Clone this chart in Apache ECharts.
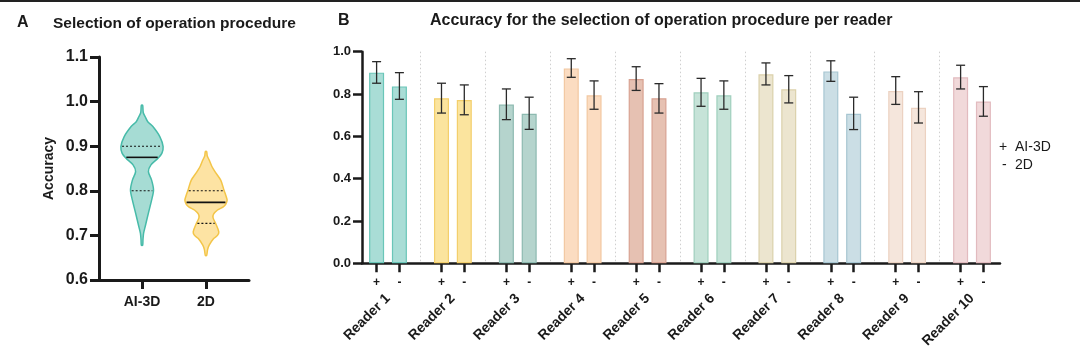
<!DOCTYPE html>
<html><head><meta charset="utf-8">
<script src="https://cdn.jsdelivr.net/npm/echarts@6/dist/echarts.min.js"></script>
<style>html,body{margin:0;padding:0;background:#fff;overflow:hidden}#c{width:1080px;height:357px}#topbar{position:absolute;left:0;top:0;width:1080px;height:2px;background:#222}</style>
</head><body><div id="c"></div><div id="topbar"></div>
<script>
// ---------- Panel A data ----------
const violinCategories = ['AI-3D', '2D'];
// density outline: [accuracy, half-width as a fraction of category spacing]
const ai3dProfile = [[0.992,0.01],[0.975,0.02],[0.966,0.05],[0.955,0.09],[0.944,0.17],[0.921,0.28],[0.899,0.33],[0.884,0.31],[0.873,0.25],[0.858,0.14],[0.843,0.10],[0.824,0.15],[0.802,0.18],[0.779,0.15],[0.750,0.10],[0.720,0.05],[0.705,0.025],[0.690,0.015],[0.678,0.01]];
const twoDProfile = [[0.888,0.01],[0.878,0.02],[0.869,0.05],[0.855,0.09],[0.843,0.14],[0.824,0.23],[0.802,0.28],[0.785,0.32],[0.779,0.33],[0.770,0.31],[0.764,0.27],[0.757,0.18],[0.748,0.12],[0.740,0.11],[0.727,0.15],[0.708,0.20],[0.700,0.18],[0.693,0.12],[0.678,0.05],[0.668,0.025],[0.655,0.01]];
const violinMedian = [0.875, 0.774];
const violinQ1 = [0.800, 0.727];
const violinQ3 = [0.900, 0.800];

// ---------- Panel B data ----------
const readers = ['Reader 1','Reader 2','Reader 3','Reader 4','Reader 5','Reader 6','Reader 7','Reader 8','Reader 9','Reader 10'];
const ai3dMean = [0.901,0.780,0.750,0.921,0.871,0.808,0.893,0.907,0.814,0.879];
const ai3dLow  = [0.851,0.710,0.679,0.879,0.817,0.742,0.843,0.860,0.751,0.824];
const ai3dHigh = [0.953,0.851,0.824,0.967,0.929,0.874,0.947,0.957,0.882,0.936];
const twoDMean = [0.836,0.772,0.707,0.794,0.780,0.794,0.822,0.707,0.735,0.765];
const twoDLow  = [0.775,0.702,0.633,0.728,0.710,0.728,0.758,0.632,0.663,0.695];
const twoDHigh = [0.901,0.843,0.785,0.862,0.849,0.862,0.887,0.785,0.811,0.835];

// ---------- styles ----------
const FONT = '"Liberation Sans", Arial, Helvetica, sans-serif';
const INK = '#1a1a1a';
const violinFill = ['#a6dcd4', '#fde3a3'];
const violinStroke = ['#47bba9', '#f3c548'];
const barFill =   ['#a9ddd6','#fbe49e','#b5d4cd','#fbdcc1','#e6c1b2','#c6e3d8','#ece5cf','#cbdee5','#f5e6dc','#f1d9da'];
const barBorder = ['#6ac6b8','#f3cf6c','#8dbab0','#f2c8a2','#d8a292','#9fcfbd','#dbd1ab','#a7c6d2','#ecd2c1','#e2bbbf'];

// ---------- layout ----------
const A = {left: 99, top: 57, width: 150, height: 223};
const B = {left: 355.56, top: 51.7, width: 648.9, height: 211.6};
const BAR_W = 15, BAR_GAP = 7.8;
const barOffsetPx = (BAR_W + BAR_GAP) / 2;
const bandPx = B.width / readers.length;
const tickOffset = barOffsetPx / bandPx;
const barTickValues = [];
readers.forEach((r, i) => { barTickValues.push(i + 0.5 - tickOffset, i + 0.5 + tickOffset); });

function halfWidthAt(prof, v) {
  for (let k = 0; k < prof.length - 1; k++) {
    const a = prof[k], b = prof[k + 1];
    if (v <= a[0] && v >= b[0]) {
      const t = (a[0] - v) / (a[0] - b[0]);
      return a[1] + (b[1] - a[1]) * t;
    }
  }
  return 0;
}
const profiles = [ai3dProfile, twoDProfile];

const chart = echarts.init(document.getElementById('c'), null, {renderer: 'canvas'});

const boldLabel = (size) => ({fontFamily: FONT, fontWeight: 'bold', fontSize: size, color: INK});

const option = {
  backgroundColor: '#fff',
  animation: false,
  title: [
    {text: 'A', left: 17, top: 15, padding: 0, textStyle: boldLabel(16)},
    {text: 'Selection of operation procedure', left: 53, top: 16, padding: 0, textStyle: boldLabel(15.5)},
    {text: 'B', left: 338, top: 13, padding: 0, textStyle: boldLabel(16)},
    {text: 'Accuracy for the selection of operation procedure per reader', left: 430, top: 13, padding: 0, textStyle: boldLabel(16)}
  ],
  grid: [
    {left: A.left, top: A.top, width: A.width, height: A.height},
    {left: B.left, top: B.top, width: B.width, height: B.height},
    {left: 362, top: B.top, width: 638, height: B.height}
  ],
  xAxis: [
    { // panel A
      gridIndex: 0, type: 'value', min: 0.328, max: 2.672,
      axisLine: {show: true, lineStyle: {color: INK, width: 3}},
      axisTick: {show: true, customValues: [1, 2], length: 9, lineStyle: {color: INK, width: 3}},
      axisLabel: {customValues: [1, 2], formatter: v => violinCategories[Math.round(v) - 1], margin: 15, ...boldLabel(14)},
      splitLine: {show: false}
    },
    { // panel B categories
      gridIndex: 1, type: 'category', data: readers,
      axisLine: {show: false}, axisTick: {show: false},
      axisLabel: {rotate: 45, margin: 33, interval: 0, ...boldLabel(14)},
      splitLine: {show: true, interval: 0, showMinLine: false, showMaxLine: false, lineStyle: {color: '#cfcfcf', type: [1.5, 2.5], width: 1}}
    },
    { // panel B bar ticks (+ / -)
      gridIndex: 1, type: 'value', min: 0, max: readers.length, position: 'bottom',
      axisLine: {show: false},
      axisTick: {show: true, customValues: barTickValues, length: 9, lineStyle: {color: INK, width: 2.5}},
      axisLabel: {customValues: barTickValues, formatter: v => ((v % 1) < 0.5 ? '+' : '-'), margin: 13, ...boldLabel(12)},
      splitLine: {show: false}
    },
    { // panel B axis line
      gridIndex: 2, type: 'value', min: 0, max: 1,
      axisLine: {show: true, lineStyle: {color: INK, width: 2.5}},
      axisTick: {show: false}, axisLabel: {show: false}, splitLine: {show: false}
    }
  ],
  yAxis: [
    {
      gridIndex: 0, type: 'value', min: 0.6, max: 1.1, interval: 0.1,
      name: 'Accuracy', nameLocation: 'middle', nameGap: 43, nameRotate: 90,
      nameTextStyle: boldLabel(14),
      axisLine: {show: true, lineStyle: {color: INK, width: 3}},
      axisTick: {show: true, length: 9, lineStyle: {color: INK, width: 3}},
      axisLabel: {formatter: v => v.toFixed(1), margin: 11, ...boldLabel(16)},
      splitLine: {show: false}
    },
    {gridIndex: 1, type: 'value', min: 0, max: 1, show: false, splitLine: {show: false}},
    {
      gridIndex: 2, type: 'value', min: 0, max: 1, interval: 0.2,
      axisLine: {show: true, lineStyle: {color: INK, width: 2.5}},
      axisTick: {show: true, length: 9, lineStyle: {color: INK, width: 2.5}},
      axisLabel: {formatter: v => v.toFixed(1), margin: 11, ...boldLabel(13)},
      splitLine: {show: false}
    }
  ],
  graphic: [
    {type: 'text', left: 999, top: 140, style: {text: '+', font: '14px ' + FONT, fill: INK}},
    {type: 'text', left: 1015, top: 140, style: {text: 'AI-3D', font: '14px ' + FONT, fill: INK}},
    {type: 'text', left: 1002, top: 158, style: {text: '-', font: '14px ' + FONT, fill: INK}},
    {type: 'text', left: 1015, top: 158, style: {text: '2D', font: '14px ' + FONT, fill: INK}}
  ],
  series: [
    {
      type: 'custom', xAxisIndex: 0, yAxisIndex: 0,
      data: violinCategories.map((c, i) => [i + 1, violinMedian[i], violinQ1[i], violinQ3[i]]),
      encode: {x: 0, y: 1},
      renderItem(params, api) {
        const i = params.dataIndex;
        const cx = api.value(0);
        const prof = profiles[i];
        const right = prof.map(p => api.coord([cx + p[1], p[0]]));
        const left = prof.slice().reverse().map(p => api.coord([cx - p[1], p[0]]));
        const children = [{
          type: 'polygon', shape: {points: right.concat(left), smooth: 0.3},
          style: {fill: violinFill[i], stroke: violinStroke[i], lineWidth: 1.5}
        }];
        const addLine = (v, dashed) => {
          const w = halfWidthAt(prof, v);
          const p1 = api.coord([cx - w, v]), p2 = api.coord([cx + w, v]);
          children.push({type: 'line', shape: {x1: p1[0] + 1, y1: p1[1], x2: p2[0] - 1, y2: p2[1]},
            style: {stroke: '#111', lineWidth: dashed ? 1.1 : 1.6, lineDash: dashed ? [2, 2] : null}});
        };
        addLine(api.value(1), false);
        addLine(api.value(2), true);
        addLine(api.value(3), true);
        return {type: 'group', children};
      }
    },
    {
      name: 'AI-3D', type: 'bar', xAxisIndex: 1, yAxisIndex: 1,
      barWidth: BAR_W, barGap: (BAR_GAP / BAR_W * 100) + '%',
      data: ai3dMean.map((v, i) => ({value: v, itemStyle: {color: barFill[i], borderColor: barBorder[i], borderWidth: 1.2}}))
    },
    {
      name: '2D', type: 'bar', xAxisIndex: 1, yAxisIndex: 1,
      barWidth: BAR_W, barGap: (BAR_GAP / BAR_W * 100) + '%',
      data: twoDMean.map((v, i) => ({value: v, itemStyle: {color: barFill[i], borderColor: barBorder[i], borderWidth: 1.2}}))
    },
    {
      type: 'custom', xAxisIndex: 1, yAxisIndex: 1, z: 5,
      data: readers.map((r, i) => [i, ai3dLow[i], ai3dHigh[i], -1]).concat(readers.map((r, i) => [i, twoDLow[i], twoDHigh[i], 1])),
      encode: {x: 0, y: [1, 2]},
      renderItem(params, api) {
        const lo = api.coord([api.value(0), api.value(1)]);
        const hi = api.coord([api.value(0), api.value(2)]);
        const x = lo[0] + api.value(3) * barOffsetPx;
        const cap = 4.5;
        const st = {stroke: '#2a2a2a', lineWidth: 1.3};
        return {type: 'group', children: [
          {type: 'line', shape: {x1: x, y1: lo[1], x2: x, y2: hi[1]}, style: st},
          {type: 'line', shape: {x1: x - cap, y1: lo[1], x2: x + cap, y2: lo[1]}, style: st},
          {type: 'line', shape: {x1: x - cap, y1: hi[1], x2: x + cap, y2: hi[1]}, style: st}
        ]};
      }
    }
  ]
};
chart.setOption(option);
</script>
</body></html>
